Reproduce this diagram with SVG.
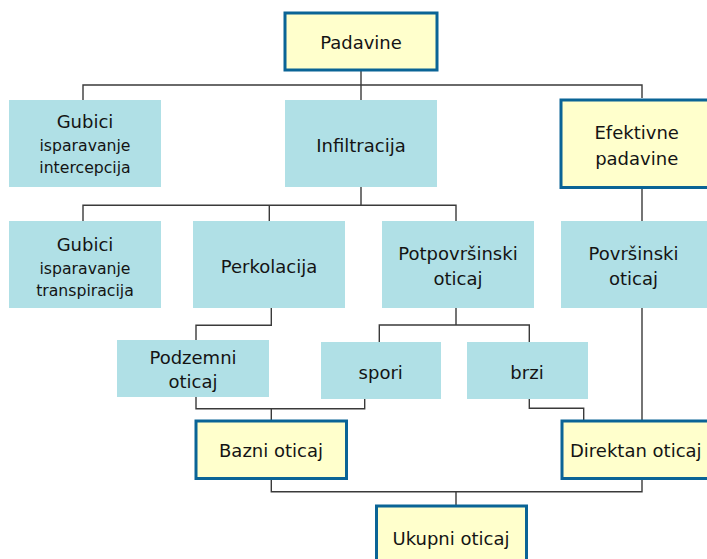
<svg xmlns="http://www.w3.org/2000/svg" width="707" height="559" viewBox="0 0 707 559">
<style>
.b{fill:#b0e0e6}
.y{fill:#ffffcc;stroke:#0a6496;stroke-width:3}
text{font-family:"DejaVu Sans","Liberation Sans",sans-serif;font-size:18px;fill:#141414;text-anchor:middle}
.s{font-size:15.7px}
.c{fill:none;stroke:#3a3a3a;stroke-width:1.4}
</style>
<rect width="707" height="559" fill="#ffffff"/>
<g id="connectors" class="c">
<path d="M361 71 V100 M83 100 V85 H642 V98"/>
<path d="M361 187 V205.3 M83 221 V205.3 H456 V221 M269.3 205.3 V221"/>
<path d="M642 189 V221"/>
<path d="M271.3 308 V325.3 H196 V340"/>
<path d="M456 308 V325 M379.3 342 V325 H529.3 V342"/>
<path d="M196 397 V408.7 H364.7 V399 M271.3 408.7 V420"/>
<path d="M529.3 399 V408.3 H583.7 V420"/>
<path d="M642 308 V420"/>
<path d="M271.3 480 V491.7 H642 V480 M456 491.7 V505"/>
</g>
<g id="padavine"><rect class="y" x="285" y="13" width="152" height="57"/><text x="361" y="49.3">Padavine</text></g>
<g id="gubici1"><rect class="b" x="9" y="100" width="152" height="87"/><text x="85" y="128.3">Gubici</text><text class="s" x="85" y="150.7">isparavanje</text><text class="s" x="85" y="173.3">intercepcija</text></g>
<g id="infiltracija"><rect class="b" x="285" y="100" width="152" height="87"/><text x="361" y="152">Infiltracija</text></g>
<g id="efektivne"><rect class="y" x="561" y="100" width="152" height="87.5"/><text x="636.7" y="139">Efektivne</text><text x="636.7" y="165">padavine</text></g>
<g id="gubici2"><rect class="b" x="9" y="221" width="152" height="87"/><text x="85" y="251">Gubici</text><text class="s" x="85" y="274">isparavanje</text><text class="s" x="85" y="296">transpiracija</text></g>
<g id="perkolacija"><rect class="b" x="193" y="221" width="152" height="87"/><text x="269" y="273.3">Perkolacija</text></g>
<g id="potpovrsinski"><rect class="b" x="382" y="221" width="152" height="87"/><text x="458" y="260">Potpovršinski</text><text x="458" y="284.5">oticaj</text></g>
<g id="povrsinski"><rect class="b" x="561" y="221" width="152" height="87"/><text x="633.5" y="260">Površinski</text><text x="633.5" y="284.5">oticaj</text></g>
<g id="podzemni"><rect class="b" x="117" y="340" width="152" height="57"/><text x="193" y="364">Podzemni</text><text x="193" y="388.3">oticaj</text></g>
<g id="spori"><rect class="b" x="321" y="342" width="120" height="57"/><text x="380.7" y="379">spori</text></g>
<g id="brzi"><rect class="b" x="467" y="342" width="121" height="57"/><text x="527" y="379">brzi</text></g>
<g id="bazni"><rect class="y" x="196" y="421" width="150.5" height="57.5"/><text x="271" y="457.3">Bazni oticaj</text></g>
<g id="direktan"><rect class="y" x="562" y="421" width="152" height="57.5"/><text x="570" y="457.3" style="text-anchor:start">Direktan oticaj</text></g>
<g id="ukupni"><rect class="y" x="376.5" y="506" width="150" height="57"/><text x="451" y="545">Ukupni oticaj</text></g>
</svg>
